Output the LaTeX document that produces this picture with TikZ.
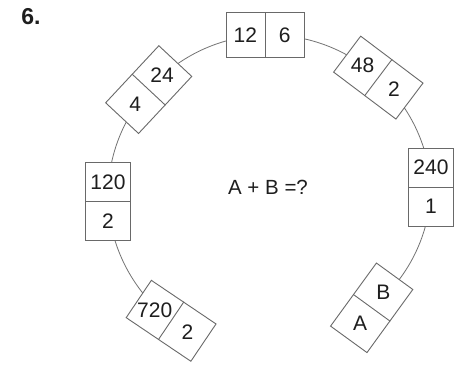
\documentclass[tikz,border=0pt]{standalone}
\usepackage{fontspec}
\setmainfont{Liberation Sans}
\usetikzlibrary{calc,backgrounds}
\definecolor{boxgray}{RGB}{105,105,105}
\definecolor{arcgray}{RGB}{115,115,115}
\definecolor{ink}{RGB}{30,30,30}
\tikzset{
  cellbox/.style={draw=boxgray, line width=0.9pt, fill=white, rectangle,
    minimum width=78pt, minimum height=45pt, inner sep=0pt},
  divider/.style={draw=boxgray, line width=0.9pt},
  num/.style={text=ink, font=\fontsize{21}{23}\selectfont, inner sep=0pt},
  question/.style={text=ink, font=\fontsize{20.5}{22}\selectfont, inner sep=0pt},
  ring/.style={draw=arcgray, line width=0.8pt, looseness=0.89},
  title/.style={text=ink, font=\fontsize{23}{25}\selectfont\bfseries, inner sep=0pt},
}
\begin{document}
\begin{tikzpicture}[x=1pt,y=-1pt]
\useasboundingbox (0,0) rectangle (456,365);

% boxes
\node[cellbox] (btop) at (265,35) {};
\node[cellbox, rotate=47] (b24) at (148.7,89.6) {};
\node[cellbox, rotate=-37] (b48) at (378.3,77.6) {};
\node[cellbox, rotate=-90] (b120) at (108,201.7) {};
\node[cellbox, rotate=-90] (b240) at (431,187) {};
\node[cellbox, rotate=-34] (b720) at (171.1,320.8) {};
\node[cellbox, rotate=54] (bab) at (371.7,307.8) {};

\foreach \b in {btop,b24,b48,b120,b240,b720,bab}{
  \draw[divider] (\b.north) -- (\b.south);
}

% cell texts
\node[num] (t12) at ($(btop.center)!0.5!(btop.west)$) {12};
\node[num] (t6) at ($(btop.center)!0.5!(btop.east)$) {6};
\node[num] (t4) at ($(b24.center)!0.5!(b24.west)$) {4};
\node[num] (t24) at ($(b24.center)!0.5!(b24.east)$) {24};
\node[num] (t48) at ($(b48.center)!0.5!(b48.west)$) {48};
\node[num] (t2a) at ($(b48.center)!0.5!(b48.east)$) {2};
\node[num] (t120) at ($(b120.center)!0.5!(b120.west)$) {120};
\node[num] (t2b) at ($(b120.center)!0.5!(b120.east)$) {2};
\node[num] (t240) at ($(b240.center)!0.5!(b240.west)$) {240};
\node[num] (t1) at ($(b240.center)!0.5!(b240.east)$) {1};
\node[num] (t720) at ($(b720.center)!0.5!(b720.west)$) {720};
\node[num] (t2c) at ($(b720.center)!0.5!(b720.east)$) {2};
\node[num] (tA) at ($(bab.center)!0.5!(bab.west)$) {A};
\node[num] (tB) at ($(bab.center)!0.5!(bab.east)$) {B};

% question and number
\node[question] (q) at (268,187) {A + B =?};
\node[title] (n6) at (31,17) {6.};

% ring arcs behind the boxes
\begin{pgfonlayer}{background}
  \fill[white] (0,0) rectangle (456,365);
  \draw[ring] (b120.center) to[bend right=24.9] (b720.center);
  \draw[ring] (b24.center) to[bend right=21.7] (b120.center);
  \draw[ring] (btop.center) to[bend right=23.5] (b24.center);
  \draw[ring] (b48.center) to[bend right=22] (btop.center);
  \draw[ring] (b240.center) to[bend right=22.1] (b48.center);
  \draw[ring] (bab.center) to[bend right=25.4] (b240.center);
\end{pgfonlayer}
\end{tikzpicture}
\end{document}
